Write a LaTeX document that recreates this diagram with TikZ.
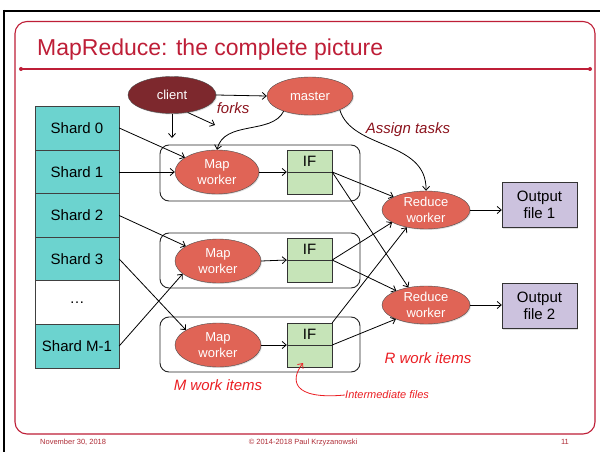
\documentclass[tikz,border=0pt]{standalone}
\usepackage{fontspec}
\setmainfont{Liberation Sans}
\usetikzlibrary{arrows.meta,shapes.geometric,shadows}
\definecolor{teal1}{RGB}{108,211,207}
\definecolor{coral}{RGB}{224,100,86}
\definecolor{clientc}{RGB}{125,40,45}
\definecolor{ifgreen}{RGB}{198,228,184}
\definecolor{lav}{RGB}{204,194,222}
\definecolor{titlered}{RGB}{190,30,55}
\definecolor{darkred}{RGB}{140,20,30}
\definecolor{brightred}{RGB}{235,30,35}
\definecolor{footred}{RGB}{175,45,55}
\begin{document}
\begin{tikzpicture}[x=1pt,y=-1pt,
  shd/.style={drop shadow={shadow xshift=1pt,shadow yshift=-1pt,opacity=0.25}},
  shard/.style={draw=black!75,fill=teal1,minimum width=84pt,minimum height=43.7pt,inner sep=0pt,font=\fontsize{15}{17}\selectfont,shd},
  worker/.style={ellipse,draw=black!70,fill=coral,text=white,inner sep=0pt,align=center,font=\fontsize{13}{16}\selectfont,shd},
  ifbox/.style={draw=black!80,fill=ifgreen,minimum width=45pt,minimum height=44pt,inner sep=0pt,shd},
  iftext/.style={font=\fontsize{15}{17}\selectfont,inner sep=0pt},
  outbox/.style={draw=black!80,fill=lav,minimum width=75pt,minimum height=45pt,inner sep=0pt,align=center,font=\fontsize{15}{17}\selectfont,shd},
  container/.style={draw=black!85,rounded corners=9pt,minimum width=200pt,inner sep=0pt,line width=0.9pt},
  conn/.style={draw=black,line width=0.8pt,-{Straight Barb[length=4pt,width=7pt]}},
  note/.style={font=\fontsize{15}{17}\selectfont\itshape,inner sep=0pt},
  foot/.style={font=\fontsize{7.5}{9}\selectfont,text=footred,inner sep=0pt}]
\useasboundingbox (0,0) rectangle (600,452);
\fill[white] (0,0) rectangle (600,452);
% slide frame
\draw[black,line width=2.2pt] (4,11) -- (600,11);
\draw[black,line width=2.2pt] (4,10) -- (4,452);
\draw[titlered,line width=1.1pt,rounded corners=12pt] (15,21.5) rectangle (595,434);
\node[anchor=base west,inner sep=0pt,text=titlered,font=\fontsize{23}{26}\selectfont] (title) at (37,56) {MapReduce: the complete picture};
\draw[titlered,line width=1.1pt] (21,69) -- (590,69);
\fill[titlered] (21,69) circle[radius=2pt];
\fill[titlered] (590,69) circle[radius=2pt];
% containers
\node[container,minimum height=56pt] (c1) at (260,173) {};
\node[container,minimum height=55pt] (c2) at (260,260.5) {};
\node[container,minimum height=55pt] (c3) at (260,344.5) {};
% shards
\node[shard] (s0) at (77,128) {Shard 0};
\node[shard] (s1) at (77,172) {Shard 1};
\node[shard] (s2) at (77,215.5) {Shard 2};
\node[shard] (s3) at (77,259) {Shard 3};
\node[shard,fill=white] (sd) at (77,302.5) {…};
\node[shard] (sm) at (77,346) {Shard M-1};
% client / master
\node[worker,fill=clientc,minimum width=88pt,minimum height=37pt] (client) at (172,95) {client};
\node[worker,minimum width=86pt,minimum height=38pt] (master) at (310,96) {master};
% map workers
\node[worker,minimum width=84pt,minimum height=44pt] (m1) at (217,172) {Map\\worker};
\node[worker,minimum width=86pt,minimum height=44pt] (m2) at (218,261) {Map\\worker};
\node[worker,minimum width=86pt,minimum height=44pt] (m3) at (218,345) {Map\\worker};
% IF boxes
\node[ifbox] (if1) at (309.5,172) {};
\node[ifbox] (if2) at (309.5,260) {};
\node[ifbox] (if3) at (309.5,345) {};
\foreach \i in {1,2,3}{
  \draw[black!80,line width=0.8pt] (if\i.west) -- (if\i.east);
  \node[iftext] (ift\i) at ([yshift=11pt]if\i.center) {IF};
}
% reduce workers
\node[worker,minimum width=88pt,minimum height=38pt] (r1) at (426,210) {Reduce\\worker};
\node[worker,minimum width=88pt,minimum height=38pt] (r2) at (426,305) {Reduce\\worker};
% outputs
\node[outbox] (o1) at (539.5,205) {Output\\file 1};
\node[outbox] (o2) at (539.5,306) {Output\\file 2};
% labels
\node[note,text=darkred] (forks) at (233,108) {forks};
\node[note,text=darkred] (assign) at (408,130) {Assign tasks};
\node[note,text=brightred] (mwork) at (218,385) {M work items};
\node[note,text=brightred] (rwork) at (428,358) {R work items};
\node[inner sep=0pt,text=brightred,font=\fontsize{11}{13}\selectfont\itshape,anchor=west] (inter) at (345,395) {Intermediate files};
% coordinates for free ends
\coordinate (cdown) at (172,138);
\coordinate (cdiag) at (215,125);
% connectors
\draw[conn] (client.east) -- (master.west);
\draw[conn] (client.south) -- (cdown);
\draw[conn] (client.-48) -- (cdiag);
\draw[conn] (master.210) .. controls (272,135) and (224,120) .. (m1.north);
\draw[conn] (master.-25) .. controls (352,150) and (427,140) .. (r1.north);
\draw[conn] (s0.east) -- (m1);
\draw[conn] (s1.east) -- (m1.west);
\draw[conn] (s2.east) -- (m2);
\draw[conn] (s3.east) -- (m3.155);
\draw[conn] (sm.east) -- (m2.200);
\draw[conn] (m1.east) -- (if1.west);
\draw[conn] (m2.east) -- (if2.west);
\draw[conn] (m3.east) -- (if3.west);
\draw[conn] (if1.east) -- (r1);
\draw[conn] (if1.east) -- (r2.135);
\draw[conn] (if2.east) -- (r1.200);
\draw[conn] (if2.east) -- (r2);
\draw[conn] (if3.north east) -- (r1.222);
\draw[conn] (if3.east) -- (r2.205);
\draw[conn] (r1.east) -- (r1.east -| o1.west);
\draw[conn] (r2.east) -- (r2.east -| o2.west);
\draw[brightred,line width=0.8pt,-{Straight Barb[length=4pt,width=7pt]}] (inter.west) .. controls (292,400) and (290,380) .. (303,363);
% footer
\node[foot,anchor=base west] (fdate) at (40,444) {November 30, 2018};
\node[foot,anchor=base] (fcopy) at (303,444) {© 2014-2018 Paul Krzyzanowski};
\node[foot,anchor=base] (fnum) at (565,444) {11};
\end{tikzpicture}
\end{document}
